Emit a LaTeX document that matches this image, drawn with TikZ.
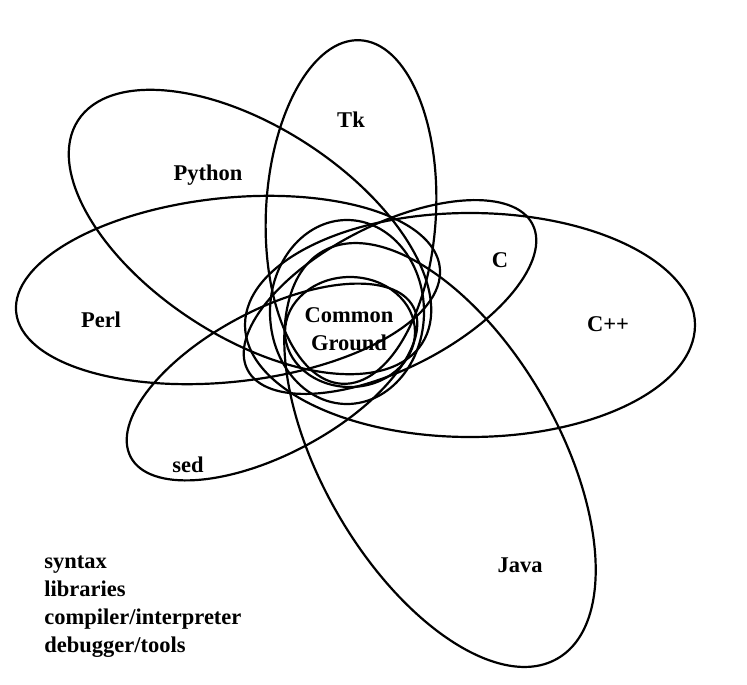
\documentclass[tikz,border=0pt]{standalone}
\usepackage{fontspec}
\setmainfont{Liberation Serif}
\begin{document}
\begin{tikzpicture}[x=1pt,y=-1pt,line width=2.2pt,
  lbl/.style={font=\fontsize{22.5}{28}\selectfont\bfseries}]
\useasboundingbox (0,0) rectangle (747,685);
% Perl
\draw[rotate around={6:(228,290)}] (228,290) ellipse[x radius=213, y radius=92];
% Python
\draw[rotate around={-33:(250,232)}] (250,232) ellipse[x radius=205, y radius=105];
% Tk
\draw[rotate around={-3:(351,212)}] (351,212) ellipse[x radius=85, y radius=172];
% C
\draw[rotate around={27:(390,297)}] (390,297) ellipse[x radius=160, y radius=72];
% C++
\draw (470,325) ellipse[x radius=225, y radius=112];
% Java
\draw[rotate around={-60:(440,455)}] (440,455) ellipse[x radius=235, y radius=118];
% sed
\draw[rotate around={28:(272,382)}] (272,382) ellipse[x radius=160, y radius=72];
% inner
\draw (347,312) ellipse[x radius=77, y radius=92];
\draw (350,332) ellipse[x radius=65, y radius=55];
\node[lbl] (tk) at (351,120) {Tk};
\node[lbl] (py) at (208,175) {Python};
\node[lbl] (c) at (500,260) {C};
\node[lbl] (perl) at (101,320) {Perl};
\node[lbl] (cpp) at (608,324) {C++};
\node[lbl,align=center] (cg) at (349,329) {Common\\Ground};
\node[lbl] (sed) at (188,465) {sed};
\node[lbl] (java) at (520,565) {Java};
\node[lbl,align=left,anchor=north west] (leg) at (40,551) {syntax\\libraries\\compiler/interpreter\\debugger/tools};
\end{tikzpicture}
\end{document}
